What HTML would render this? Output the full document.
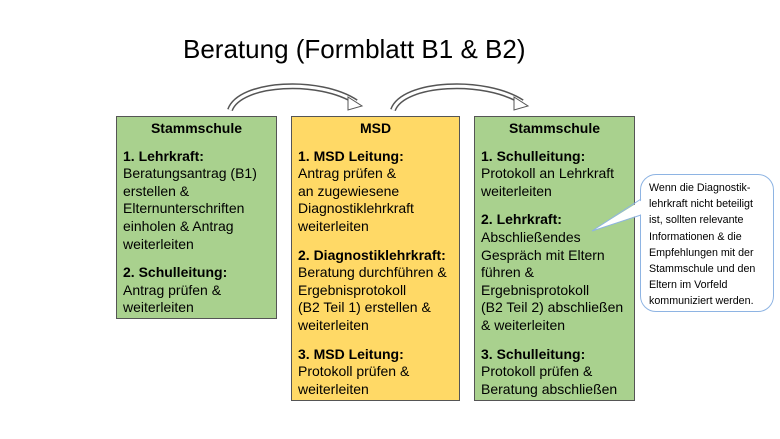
<!DOCTYPE html>
<html><head><meta charset="utf-8"><style>
body{margin:0;width:780px;height:439px;background:#fff;position:relative;overflow:hidden;font-family:"Liberation Sans",Arial,sans-serif;color:#000}
.t{position:absolute;left:183px;top:34px;font-size:26px}
.b{position:absolute;border:1px solid #555;box-sizing:border-box;padding:3px 6px;font-size:14px;line-height:17.6px}
.g{background:#a9d18e}.y{background:#ffd966}
.h{text-align:center;font-weight:bold;margin-bottom:10px}
.b p{margin:0 0 11px}
.b b{font-weight:bold}
.c{position:absolute;left:640px;top:174px;width:134px;height:138px;border:1px solid #8eb4e3;border-radius:16px;box-sizing:border-box;background:#fff;font-size:10.7px;line-height:16.2px;padding:5px 0 0 8px}
</style></head><body>
<div class="t">Beratung (Formblatt B1 &amp; B2)</div>
<svg width="780" height="439" style="position:absolute;left:0;top:0">
<g fill="none" stroke-linecap="butt">
<path d="M230,110 C240,82 320,78 356,102" stroke="#555" stroke-width="6"/>
<path d="M230,110 C240,82 320,78 356,102" stroke="#fff" stroke-width="3"/>
<path d="M393,110 C403,82 485,78 522,102" stroke="#555" stroke-width="6"/>
<path d="M393,110 C403,82 485,78 522,102" stroke="#fff" stroke-width="3"/>
</g>
<polygon points="348,97 362,106 348,110" fill="#fff" stroke="#555" stroke-width="1"/>
<polygon points="514,97 528,106 514,110" fill="#fff" stroke="#555" stroke-width="1"/>
</svg>
<div class="b g" style="left:116px;top:116px;width:161px;height:203px">
<div class="h">Stammschule</div>
<p><b>1. Lehrkraft:</b><br>Beratungsantrag (B1) erstellen &amp; Elternunterschriften einholen &amp; Antrag weiterleiten</p>
<p><b>2. Schulleitung:</b><br>Antrag prüfen &amp;<br>weiterleiten</p>
</div>
<div class="b y" style="left:291px;top:116px;width:169px;height:285px">
<div class="h">MSD</div>
<p><b>1. MSD Leitung:</b><br>Antrag prüfen &amp;<br>an zugewiesene Diagnostiklehrkraft weiterleiten</p>
<p><b>2. Diagnostiklehrkraft:</b><br>Beratung durchführen &amp; Ergebnisprotokoll<br>(B2 Teil 1) erstellen &amp; weiterleiten</p>
<p><b>3. MSD Leitung:</b><br>Protokoll prüfen &amp;<br>weiterleiten</p>
</div>
<div class="b g" style="left:474px;top:116px;width:161px;height:285px">
<div class="h">Stammschule</div>
<p><b>1. Schulleitung:</b><br>Protokoll an Lehrkraft weiterleiten</p>
<p><b>2. Lehrkraft:</b><br>Abschließendes Gespräch mit Eltern führen &amp; Ergebnisprotokoll<br>(B2 Teil 2) abschließen &amp; weiterleiten</p>
<p><b>3. Schulleitung:</b><br>Protokoll prüfen &amp;<br>Beratung abschließen</p>
</div>
<div class="c">Wenn die Diagnostik-<br>lehrkraft nicht beteiligt<br>ist, sollten relevante<br>Informationen &amp; die<br>Empfehlungen mit der<br>Stammschule und den<br>Eltern im Vorfeld<br>kommuniziert werden.</div>
<svg width="780" height="439" style="position:absolute;left:0;top:0">
<polygon points="642,200 592,231 642,214" fill="#fff"/>
<polyline points="641,199 592,231 641,215" fill="none" stroke="#8eb4e3" stroke-width="1"/>
</svg>
</body></html>
